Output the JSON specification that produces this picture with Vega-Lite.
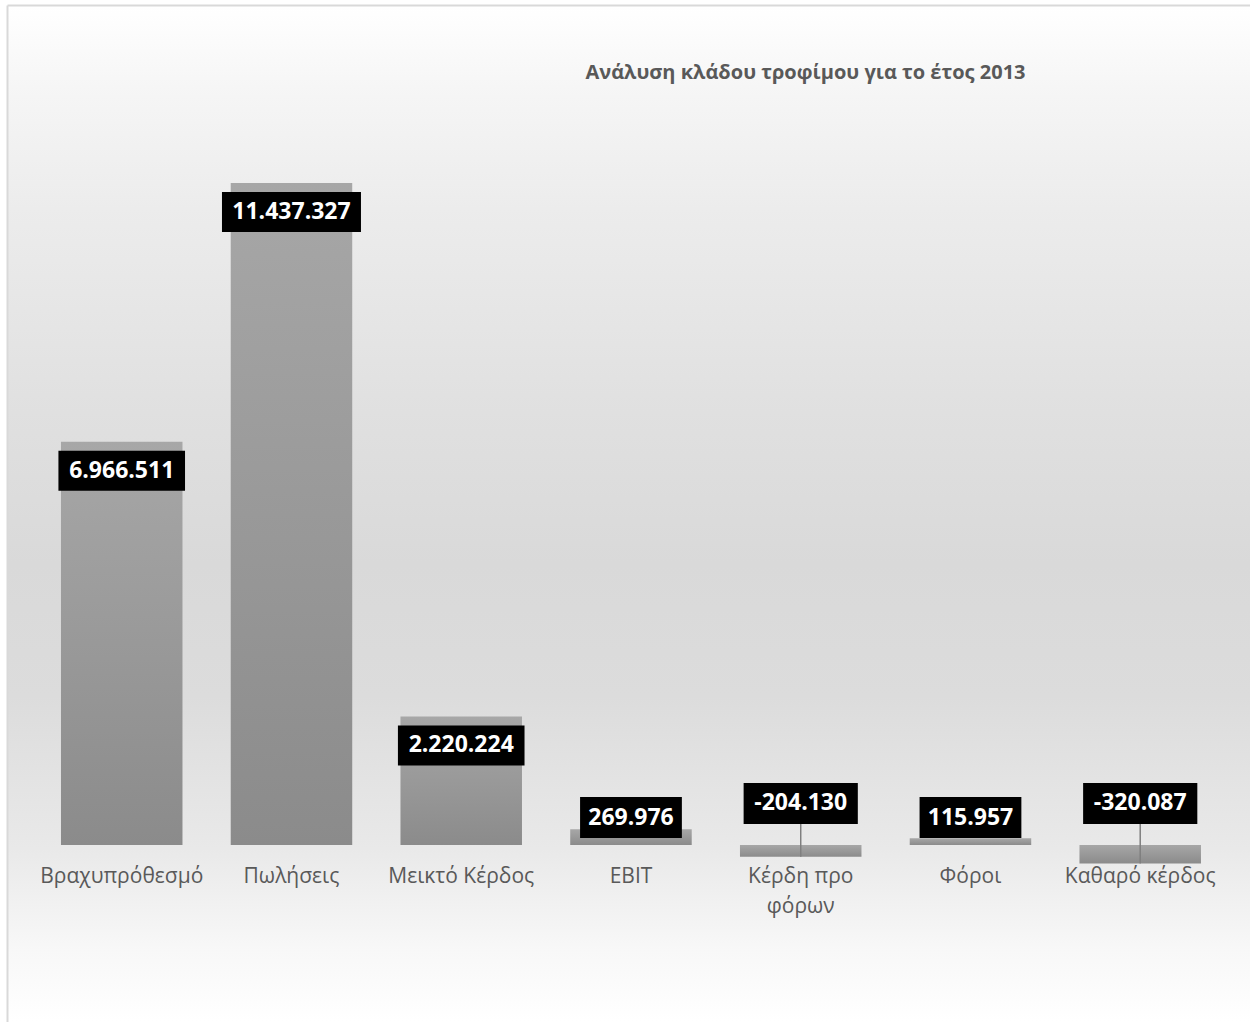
{
  "$schema": "https://vega.github.io/schema/vega-lite/v6.json",
  "autosize": "none",
  "width": 1243,
  "height": 1017,
  "padding": {"left": 7, "top": 5, "right": 0, "bottom": 0},
  "background": "#ffffff",
  "config": {
    "locale": {"number": {"decimal": ",", "thousands": ".", "grouping": [3], "currency": ["", " €"], "minus": "-"}},
    "view": {
      "stroke": null,
      "fill": {
        "gradient": "linear", "x1": 0, "y1": 0, "x2": 0, "y2": 1,
        "stops": [
          {"offset": 0, "color": "#ffffff"},
          {"offset": 0.09, "color": "#f5f5f5"},
          {"offset": 0.2, "color": "#ececec"},
          {"offset": 0.4, "color": "#e0e0e0"},
          {"offset": 0.55, "color": "#d9d9d9"},
          {"offset": 0.68, "color": "#dcdcdc"},
          {"offset": 0.83, "color": "#e9e9e9"},
          {"offset": 0.93, "color": "#f8f8f8"},
          {"offset": 1, "color": "#ffffff"}
        ]
      }
    },
    "font": "Open Sans"
  },
  "title": {
    "text": "Ανάλυση κλάδου τροφίμου για το έτος 2013",
    "orient": "top",
    "anchor": "middle",
    "offset": -88,
    "dx": 177,
    "baseline": "middle",
    "fontSize": 20,
    "fontWeight": "bold",
    "color": "#595959",
    "font": "Open Sans"
  },
  "data": {
    "values": [
      {"cat": "Βραχυπρόθεσμό", "label": "Βραχυπρόθεσμό", "value": 6966511},
      {"cat": "Πωλήσεις", "label": "Πωλήσεις", "value": 11437327},
      {"cat": "Μεικτό Κέρδος", "label": "Μεικτό Κέρδος", "value": 2220224},
      {"cat": "EBIT", "label": "EBIT", "value": 269976},
      {"cat": "Κέρδη προ φόρων", "label": "Κέρδη προ\nφόρων", "value": -204130},
      {"cat": "Φόροι", "label": "Φόροι", "value": 115957},
      {"cat": "Καθαρό κέρδος", "label": "Καθαρό κέρδος", "value": -320087}
    ]
  },
  "transform": [
    {"calculate": "length(format(datum.value, ',d')) * 12.4 + 15", "as": "boxw"}
  ],
  "encoding": {
    "x": {
      "field": "cat", "type": "nominal", "sort": null,
      "scale": {"paddingInner": 0.2842, "paddingOuter": 0.3034, "align": 0.524},
      "axis": {"orient": "top", "labels": false, "ticks": false, "title": null, "domainColor": "#d9d9d9", "domainWidth": 2}
    }
  },
  "layer": [
    {
      "mark": {
        "type": "bar",
        "color": {
          "gradient": "linear", "x1": 0, "y1": 0, "x2": 0, "y2": 1,
          "stops": [
            {"offset": 0, "color": "#a7a7a7"},
            {"offset": 1, "color": "#8b8b8b"}
          ]
        }
      },
      "encoding": {
        "y": {
          "field": "value", "type": "quantitative",
          "scale": {"domain": [-3058011, 14512615], "nice": false, "zero": false},
          "axis": {"labels": false, "ticks": false, "grid": false, "title": null, "domainColor": "#d9d9d9", "domainWidth": 2}
        },
        "y2": {"datum": 0}
      }
    },
    {
      "transform": [{"filter": "datum.value < 0"}],
      "mark": {"type": "rule", "color": "#7f7f7f", "strokeWidth": 1.5, "y2Offset": -21},
      "encoding": {
        "y": {"field": "value", "type": "quantitative"},
        "y2": {"datum": 0}
      }
    },
    {
      "transform": [{"filter": "datum.value > 1000000"}],
      "mark": {"type": "bar", "color": "#000000", "yOffset": 9, "y2Offset": 49},
      "encoding": {
        "y": {"field": "value", "type": "quantitative"},
        "y2": {"field": "value"},
        "size": {"field": "boxw", "type": "quantitative", "scale": null, "legend": null}
      }
    },
    {
      "transform": [{"filter": "datum.value > 1000000"}],
      "mark": {"type": "text", "color": "#ffffff", "fontWeight": "bold", "fontSize": 23, "baseline": "middle", "yOffset": 29},
      "encoding": {
        "y": {"field": "value", "type": "quantitative"},
        "text": {"field": "value", "type": "quantitative", "format": ",d"}
      }
    },
    {
      "transform": [{"filter": "datum.value > 0 && datum.value <= 1000000"}],
      "mark": {"type": "bar", "color": "#000000", "yOffset": -48, "y2Offset": -7},
      "encoding": {
        "y": {"datum": 0},
        "y2": {"datum": 0},
        "size": {"field": "boxw", "type": "quantitative", "scale": null, "legend": null}
      }
    },
    {
      "transform": [{"filter": "datum.value > 0 && datum.value <= 1000000"}],
      "mark": {"type": "text", "color": "#ffffff", "fontWeight": "bold", "fontSize": 23, "baseline": "middle", "yOffset": -27},
      "encoding": {
        "y": {"datum": 0},
        "text": {"field": "value", "type": "quantitative", "format": ",d"}
      }
    },
    {
      "transform": [{"filter": "datum.value < 0"}],
      "mark": {"type": "bar", "color": "#000000", "yOffset": -62, "y2Offset": -21},
      "encoding": {
        "y": {"datum": 0},
        "y2": {"datum": 0},
        "size": {"field": "boxw", "type": "quantitative", "scale": null, "legend": null}
      }
    },
    {
      "transform": [{"filter": "datum.value < 0"}],
      "mark": {"type": "text", "color": "#ffffff", "fontWeight": "bold", "fontSize": 23, "baseline": "middle", "yOffset": -42},
      "encoding": {
        "y": {"datum": 0},
        "text": {"field": "value", "type": "quantitative", "format": ",d"}
      }
    },
    {
      "mark": {"type": "text", "color": "#595959", "fontSize": 21, "baseline": "top", "lineBreak": "\n", "lineHeight": 30, "yOffset": 21},
      "encoding": {
        "y": {"datum": 0},
        "text": {"field": "label"}
      }
    }
  ]
}
